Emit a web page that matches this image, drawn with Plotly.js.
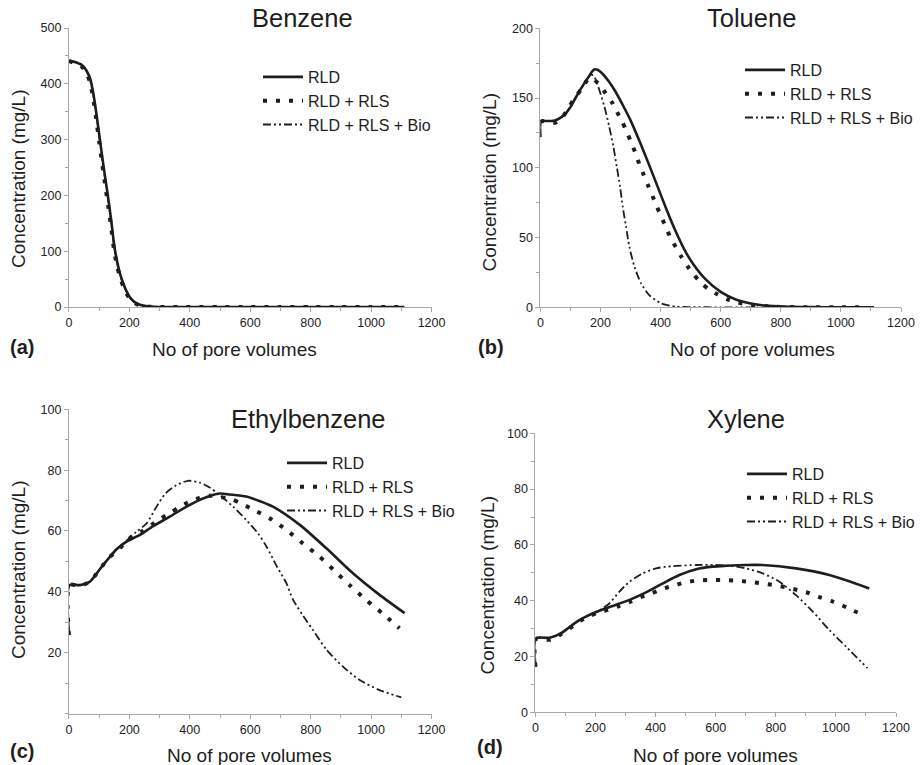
<!DOCTYPE html>
<html>
<head>
<meta charset="utf-8">
<script src="https://cdn.plot.ly/plotly-3.0.1.min.js"></script>
<style>html,body{margin:0;padding:0;background:#fff;}#chart{width:920px;height:765px;}</style>
</head>
<body>
<div id="chart"></div>
<script>
// ---------- Data ----------
const seriesNames = ["RLD", "RLD + RLS", "RLD + RLS + Bio"];
const panelTitles = ["Benzene", "Toluene", "Ethylbenzene", "Xylene"];
const panelLabels = ["(a)", "(b)", "(c)", "(d)"];
const xTitle = "No of pore volumes";
const yTitle = "Concentration (mg/L)";

// Benzene
const bzX = [0,10,20,30,40,50,60,70,80,90,100,110,120,130,140,150,160,170,180,190,200,215,230,250,270,300,400,500,600,700,800,900,1000,1110];
const bzRLD = [441,440,439,437,435,430,422,410,385,350,310,270,232,195,155,110,80,58,42,29,19,10,5,2,0.6,0,0,0,0,0,0,0,0,0];
const bzRLS = [441,439,437,435,432,426,417,403,375,338,297,257,219,181,142,100,72,52,37,25,16,8,4,1.5,0.4,0,0,0,0,0,0,0,0,0];
const bzBio = [441,440,439,437,434,429,421,408,383,347,307,267,229,192,152,107,78,56,41,28,18,9,4.5,1.8,0.5,0,0,0,0,0,0,0,0,0];

// Toluene
const tlX_RLD = [0,2,20,45,60,80,100,113,130,146,160,170,179,190,205,229,250,274,300,330,360,390,420,450,480,510,550,600,650,700,750,811,900,1000,1110];
const tlRLD = [122,133.5,133.5,133.8,135,138,143.5,148.6,155,160.5,165,168.5,170.5,170.3,167.8,161.5,154.5,145,134,119,103,86.5,70,54.5,41,30.5,20,11,5.6,2.7,1.2,0.5,0.1,0,0];
const tlX_RLS = [0,8,49,77,96,113,135,152,165,180,200,216,238,255,272,287,301,316,329,344,359,373,388,402,418,433,451,469,489,510,534,560,589,623,660,700,750,800,900,1000,1080];
const tlRLS = [133,133.5,132.3,137.4,143.8,149.8,156,161.7,164.5,163,158.5,153.8,147,140,133,126,118.7,110.8,102.7,94.8,87,79.8,72,65,57.3,49.7,43,36.3,29.6,23.6,17.6,12.9,9.3,5.7,3.3,1.8,0.8,0.3,0,0,0];
const tlX_Bio = [0,2,20,45,80,113,140,155,168,180,196,213,229,243,254,265,274,285,296,313,335,362,401,451,500,600,700,800,900,1000,1100];
const tlBio = [122,133.5,133.5,133.8,138,148.6,158.5,163.5,167,165,155.8,143.8,129.5,115,100.8,86.5,72,57.8,43.4,29.1,17.2,8.8,2.9,0.5,0.1,0,0,0,0,0,0];

// Ethylbenzene
const ebX_RLD = [0,2,36,69,91.5,113,135.5,157.6,190.7,234.7,278.8,333.9,389,444,499,532,587,675,764,852,940,1028,1111];
const ebRLD = [25.8,42.2,42.2,43.3,46,48.8,51.5,54,56.5,58.7,61.6,64.7,68,70.7,72.3,72,71.3,68,62,54.3,46.1,39,33];
const ebX_RLS = [0,2,36,69,91.5,113,135.5,163,207,240,273,306,334,364,394,444,470,500,538,571,620,664,720,774.5,830,879,930,984,1040,1094];
const ebRLS = [25.8,42.2,42,43.3,46,48.8,51.5,53.8,58.1,59.8,62,64.2,65.8,67.8,69.4,71.3,71.6,71.2,70.4,69,66.5,64.2,60.3,55.9,51.5,46.9,42.1,37.3,32.7,28];
const ebX_Bio = [0,2,36,69,91.5,113,135.5,157.6,190.7,224,257,290,320,356,394,433,466,499,543,587,626,653,690,720,741,786,808,852,907,962,1028,1100];
const ebBio = [25.8,42.2,42.2,43.3,46,48.8,51.5,54,56.8,59.8,62.5,68,72.4,75.1,76.5,75.9,74.3,71.8,68,63.6,59.2,55,48,42.8,37.5,30.5,27.4,21,15.4,11,7.7,5.3];

// Xylene
const xyX_RLD = [0,2,47,85,113,146,180,213,257,313,368,424,479,535,590,634,700,756,867,978,1111];
const xyRLD = [16.3,26.5,26.7,28.3,30.5,33,34.9,36.4,38.1,40.3,43,46.2,49.2,51.3,52.2,52.5,52.8,52.8,51.6,49.2,44.4];
const xyX_RLS = [0,2,47,85,113,146,180,207,246,279,315,349,385,420,457,496,535,577,621,665,710,754,795,834,873,911,947,984,1017,1052,1087];
const xyRLS = [16.3,26.3,26,28,30,32.6,34.5,35.7,36.9,38.1,39.6,41.2,42.6,44.1,45.3,46.5,47.2,47.4,47.4,47.2,46.8,46.2,45.6,44.8,43.8,42.7,41.2,39.9,38.5,36.7,35.1];
const xyX_Bio = [0,2,47,85,113,146,180,213,246,279,313,357,401,457,535,601,656,701,756,812,867,923,978,1034,1105];
const xyBio = [16.3,26.5,26.7,28.3,30.5,33,34.9,36.6,39,43.2,46.8,49.8,51.6,52.4,52.8,52.8,52.4,51.6,49.8,46.8,42,36.1,29.5,23.5,15.8];

const xTickVals = [0,200,400,600,800,1000,1200];
const yRanges = [[0,500],[0,200],[0,100],[0,100]];
const yDticks = [100,50,20,20];
const yTickValsC = [20,40,60,80,100];

// ---------- Styling ----------
const FONT = "Liberation Sans, Arial, Helvetica, sans-serif";
const INK = "#1e1e1e";
const styles = [
  {width: 2.6, dash: "solid"},
  {width: 4, dash: "4px,9px"},
  {width: 1.8, dash: "8px,3px,2px,3px,2px,3px"}
];

const panels = [
  {xs:[bzX,bzX,bzX], ys:[bzRLD,bzRLS,bzBio]},
  {xs:[tlX_RLD,tlX_RLS,tlX_Bio], ys:[tlRLD,tlRLS,tlBio]},
  {xs:[ebX_RLD,ebX_RLS,ebX_Bio], ys:[ebRLD,ebRLS,ebBio]},
  {xs:[xyX_RLD,xyX_RLS,xyX_Bio], ys:[xyRLD,xyRLS,xyBio]}
];

const W = 920, H = 765;
// pixel boxes of each plot area [left, right, top, bottom]
const boxes = [
  [69, 432, 28, 307],
  [541, 902, 28.3, 307.3],
  [69, 432, 409.3, 713.5],
  [536, 897, 433.3, 712.3]
];
const legendPos = [[258, 60], [740, 53], [282, 446], [743, 457]];
const titlePos = [[303, 18], [752, 18], [309, 419], [747, 419]];
const xTitlePos = [[235, 350], [753, 350], [250, 755], [716, 755]];
const yTitlePos = [[18, 179], [490, 182], [18, 570], [488, 585]];
const labelPos = [[22, 347], [492, 347], [22, 751], [491, 747]];

const traces = [];
const layout = {
  width: W, height: H,
  margin: {l:0, r:0, t:0, b:0},
  paper_bgcolor: "#fff", plot_bgcolor: "rgba(0,0,0,0)",
  font: {family: FONT, color: INK},
  annotations: []
};

panels.forEach((p, i) => {
  const n = i + 1;
  const xa = "x" + (n === 1 ? "" : n), ya = "y" + (n === 1 ? "" : n);
  const legName = n === 1 ? "legend" : "legend" + n;
  for (let s = 0; s < 3; s++) {
    traces.push({
      type: "scatter", mode: "lines",
      x: p.xs[s], y: p.ys[s],
      name: seriesNames[s],
      xaxis: xa, yaxis: ya, legend: legName,
      line: {color: INK, width: styles[s].width, dash: styles[s].dash, shape: "spline", smoothing: 0.7},
      hoverinfo: "skip"
    });
  }
  const b = boxes[i];
  const axBase = {
    showgrid: false, zeroline: false, showline: true,
    linecolor: "#a8a8a8", linewidth: 1,
    ticks: "outside", ticklen: 4, tickcolor: "#a8a8a8", tickwidth: 1,
    tickfont: {family: FONT, size: 12.5, color: "#222"},
    fixedrange: true
  };
  layout["xaxis" + (n === 1 ? "" : n)] = Object.assign({}, axBase, {
    domain: [b[0]/W, b[1]/W], range: [0, 1200],
    anchor: ya,
    tickmode: "array", tickvals: xTickVals,
    minor: {dtick: 100, tick0: 0, ticks: "outside", ticklen: 3, tickcolor: "#a8a8a8"}
  });
  const yax = Object.assign({}, axBase, {
    domain: [1 - b[3]/H, 1 - b[2]/H], range: yRanges[i],
    anchor: xa,
    minor: {dtick: yDticks[i]/2, tick0: 0, ticks: "outside", ticklen: 3, tickcolor: "#a8a8a8"}
  });
  if (i === 2) { yax.tickmode = "array"; yax.tickvals = yTickValsC; }
  else { yax.dtick = yDticks[i]; yax.tick0 = 0; }
  layout["yaxis" + (n === 1 ? "" : n)] = yax;

  layout[legName] = {
    x: legendPos[i][0]/W, y: 1 - legendPos[i][1]/H,
    xanchor: "left", yanchor: "top",
    bgcolor: "rgba(0,0,0,0)", borderwidth: 0,
    font: {family: FONT, size: 16, color: INK},
    itemwidth: 40, tracegroupgap: 0
  };

  layout.annotations.push(
    {text: panelTitles[i], x: titlePos[i][0]/W, y: 1 - titlePos[i][1]/H, xref: "paper", yref: "paper",
     xanchor: "center", yanchor: "middle", showarrow: false, font: {family: FONT, size: 25.5, color: INK}},
    {text: xTitle, x: xTitlePos[i][0]/W, y: 1 - xTitlePos[i][1]/H, xref: "paper", yref: "paper",
     xanchor: "center", yanchor: "middle", showarrow: false, font: {family: FONT, size: 19, color: INK}},
    {text: yTitle, x: yTitlePos[i][0]/W, y: 1 - yTitlePos[i][1]/H, xref: "paper", yref: "paper",
     xanchor: "center", yanchor: "middle", textangle: -90, showarrow: false, font: {family: FONT, size: 19, color: INK}},
    {text: "<b>" + panelLabels[i] + "</b>", x: labelPos[i][0]/W, y: 1 - labelPos[i][1]/H, xref: "paper", yref: "paper",
     xanchor: "center", yanchor: "middle", showarrow: false, font: {family: FONT, size: 20, color: INK}}
  );
});

Plotly.newPlot("chart", traces, layout, {staticPlot: true, displayModeBar: false});
</script>
</body>
</html>
